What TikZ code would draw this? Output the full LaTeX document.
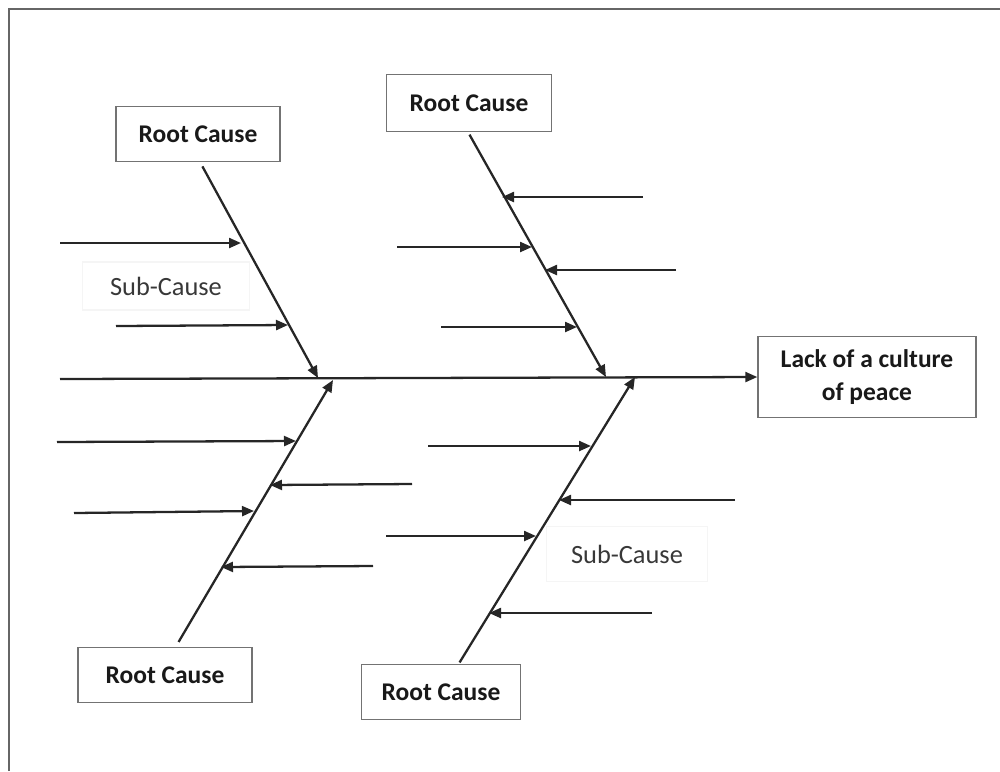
\documentclass[tikz,border=0pt]{standalone}
\usepackage{fontspec}
\setmainfont{Carlito}
\usetikzlibrary{arrows.meta}

\tikzset{
  rootbox/.style={draw=black!55, line width=0.8pt, fill=white, inner sep=0pt,
    font=\bfseries\fontsize{14.5}{18.5}\selectfont, text=black!90},
  subbox/.style={draw=black!4, line width=0.6pt, inner sep=0pt,
    font=\fontsize{15}{17}\selectfont, text=black!78},
  bone/.style={line width=1.3pt, draw=black!85,
    -{Triangle[length=2.4mm,width=2mm]}},
}

\begin{document}
\begin{tikzpicture}[x=0.2mm,y=-0.2mm]
                \useasboundingbox (0,0) rectangle (1000,771);
                % frame
                \draw[black!60, line width=0.9pt] (9,771) -- (9,9) -- (1000,9);

                % effect and root causes
                \node[rootbox, minimum width=43.6mm, minimum height=16.2mm, align=center]
                    (effect) at (867,377) {Lack of a culture\\of peace};
                \node[rootbox, minimum width=32.8mm, minimum height=11mm] (rcA) at (198,134) {Root Cause};
                \node[rootbox, minimum width=33mm, minimum height=11.4mm] (rcB) at (469,103) {Root Cause};
                \node[rootbox, minimum width=34.8mm, minimum height=11mm] (rcC) at (165,675) {Root Cause};
                \node[rootbox, minimum width=31.8mm, minimum height=11mm] (rcD) at (441,692) {Root Cause};

                % sub-cause labels
                \node[subbox, minimum width=33.4mm, minimum height=9.6mm] (subA) at (166,286) {Sub-Cause};
                \node[subbox, minimum width=32.2mm, minimum height=11mm] (subB) at (627,554) {Sub-Cause};

                % spine
                \coordinate (tail) at (60,379);
                \draw[bone] (tail) -- (effect.west);

                % main bones
                \coordinate (jA) at (318,378);
                \coordinate (jB) at (606,377);
                \coordinate (jC) at (333,380);
                \coordinate (jD) at (635,377);
                \draw[bone, shorten <=1mm] (200,162) -- (jA);
                \draw[bone, shorten <=0.6mm] (468,132) -- (jB);
                \draw[bone, shorten <=1.4mm] (175,648) -- (jC);
                \draw[bone, shorten <=0.6mm] (458,665) -- (jD);

                % sub-causes, bone A
                \coordinate (a1s) at (60,243);  \coordinate (a1e) at (241,243);
                \coordinate (a2s) at (116,326); \coordinate (a2e) at (288,325);
                \draw[bone] (a1s) -- (a1e);
                \draw[bone] (a2s) -- (a2e);

                % sub-causes, bone B
                \coordinate (b1s) at (643,197); \coordinate (b1e) at (502,197);
                \coordinate (b2s) at (397,247); \coordinate (b2e) at (532,247);
                \coordinate (b3s) at (676,270); \coordinate (b3e) at (545,270);
                \coordinate (b4s) at (441,327); \coordinate (b4e) at (577,327);
                \foreach \s/\e in {b1s/b1e, b2s/b2e, b3s/b3e, b4s/b4e}
                    \draw[bone] (\s) -- (\e);

                % sub-causes, bone C
                \coordinate (c1s) at (57,442);  \coordinate (c1e) at (296,441);
                \coordinate (c2s) at (412,484); \coordinate (c2e) at (270,485);
                \coordinate (c3s) at (74,513);  \coordinate (c3e) at (254,511);
                \coordinate (c4s) at (373,566); \coordinate (c4e) at (221,567);
                \foreach \s/\e in {c1s/c1e, c2s/c2e, c3s/c3e, c4s/c4e}
                    \draw[bone] (\s) -- (\e);

                % sub-causes, bone D
                \coordinate (d1s) at (428,446); \coordinate (d1e) at (591,446);
                \coordinate (d2s) at (735,500); \coordinate (d2e) at (559,500);
                \coordinate (d3s) at (386,536); \coordinate (d3e) at (536,536);
                \coordinate (d4s) at (652,613); \coordinate (d4e) at (489,613);
                \foreach \s/\e in {d1s/d1e, d2s/d2e, d3s/d3e, d4s/d4e}
                    \draw[bone] (\s) -- (\e);
            \end{tikzpicture}
\end{document}
